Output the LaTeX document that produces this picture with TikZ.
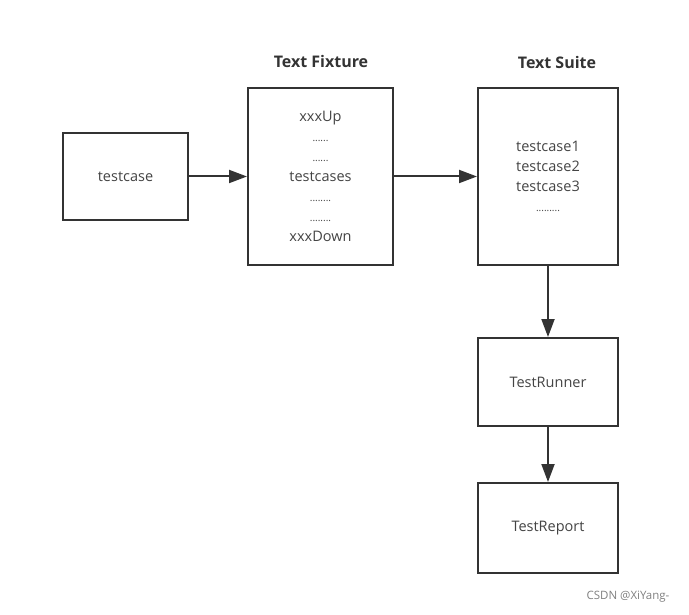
\documentclass[tikz,border=0pt]{standalone}
\usepackage{fontspec}
\setmainfont{Open Sans}
\usetikzlibrary{arrows.meta}
\definecolor{boxline}{HTML}{333333}
\definecolor{boxtext}{HTML}{444444}
\newcommand{\dotrow}[1]{{\fontsize{10}{20}\selectfont #1}}
\tikzset{
    box/.style = {draw = boxline, line width = 2pt, fill = white, align = center,
                  text = boxtext, font = \fontsize{14.5}{20}\selectfont, inner sep = 0pt},
    title/.style = {font = \fontsize{16}{18}\selectfont\bfseries, text = boxline},
    link/.style = {draw = boxline, line width = 2pt, -{Triangle[length = 18pt, width = 13pt]}}
}
\begin{document}
\begin{tikzpicture}[x = 1pt, y = -1pt]
        \useasboundingbox (0, 0) rectangle (689, 615);
        \node [box, minimum width = 125pt, minimum height = 87pt] (tc) at (125.5, 176.5) {testcase};
        \node [box, minimum width = 145pt, minimum height = 177pt] (fix) at (320.5, 176.5)
            {xxxUp\\\dotrow{......}\\\dotrow{......}\\testcases\\\dotrow{........}\\\dotrow{........}\\xxxDown};
        \node [box, minimum width = 140pt, minimum height = 177pt] (suite) at (548, 176.5)
            {testcase1\\testcase2\\testcase3\\\dotrow{.........}};
        \node [box, minimum width = 140pt, minimum height = 88pt] (runner) at (548, 382) {TestRunner};
        \node [box, minimum width = 140pt, minimum height = 90pt] (report) at (548, 528) {TestReport};
        \node [title] (fixtitle) at (321, 62) {Text Fixture};
        \node [title] (suitetitle) at (557, 63) {Text Suite};
        \draw [link] (tc.east) -- (fix.west);
        \draw [link] (fix.east) -- (suite.west);
        \draw [link] (suite.south) -- (runner.north);
        \draw [link] (runner.south) -- (report.north);
        \node [text = gray, font = \fontsize{11.5}{12}\selectfont] (mark) at (628, 597) {CSDN @XiYang-};
    \end{tikzpicture}
\end{document}
